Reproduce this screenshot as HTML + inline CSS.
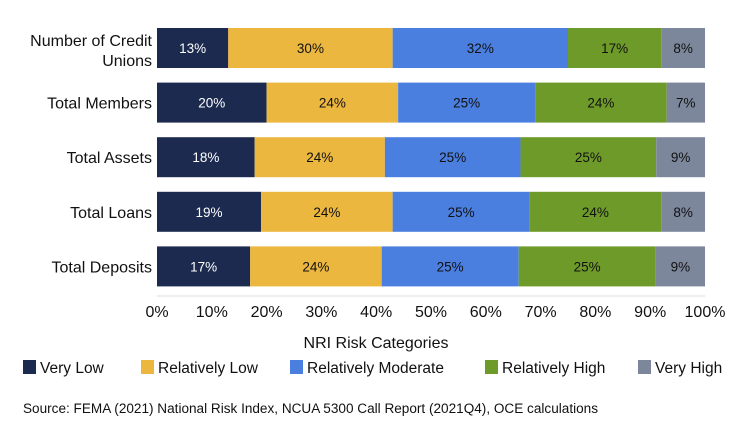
<!DOCTYPE html>
<html><head><meta charset="utf-8"><style>
body{margin:0;background:#fff;width:745px;height:435px;overflow:hidden;font-family:"Liberation Sans",sans-serif;}
svg text{font-family:"Liberation Sans",sans-serif;}
</style></head><body>
<svg id="chart" width="745" height="435" xmlns="http://www.w3.org/2000/svg"></svg>
<script>
const categories = ["Number of Credit|Unions","Total Members","Total Assets","Total Loans","Total Deposits"];
const seriesNames = ["Very Low","Relatively Low","Relatively Moderate","Relatively High","Very High"];
const veryLow = [13,20,18,19,17];
const relLow = [30,24,24,24,24];
const relMod = [32,25,25,25,25];
const relHigh = [17,24,25,24,25];
const veryHigh = [8,7,9,8,9];
const ticks = [0,10,20,30,40,50,60,70,80,90,100];
const colors = ["#1b2a4e","#ecb73f","#4a7fe0","#6e9a2a","#7c879c"];
const textColors = ["#fff","#111","#111","#111","#111"];
const series = [veryLow,relLow,relMod,relHigh,veryHigh];
const svg = document.getElementById('chart');
const NS = "http://www.w3.org/2000/svg";
const x0 = 157, x1 = 705;
const xs = v => x0 + (x1 - x0) * v / 100;
const rowTop = i => 28 + i * 54.6;
const barH = 40;
function mk(tag, attrs){const e=document.createElementNS(NS,tag);for(const k in attrs)e.setAttribute(k,attrs[k]);svg.appendChild(e);return e;}
const ax = mk('line',{x1:x0,x2:x1,y1:296,y2:296,stroke:'#ddd','stroke-width':1});


ticks.forEach(t=>{
  const tx = mk('text',{x:xs(t),y:317,'text-anchor':'middle','font-size':16,fill:'#111'});
  tx.textContent = t + '%';
  
  
});
categories.forEach((c,i)=>{
  const total = series.reduce((s,a)=>s+a[i],0);
  let acc = 0;
  const yt = rowTop(i);
  series.forEach((arr,j)=>{
    const v = arr[i] * 100 / total;
    const r = mk('rect',{x:xs(acc),y:yt,width:xs(acc+v)-xs(acc),height:barH,fill:colors[j]});
    
    
    const t = mk('text',{x:(xs(acc)+xs(acc+v))/2,y:yt+barH/2+5,'text-anchor':'middle','font-size':13.5,fill:textColors[j]});
    t.textContent = arr[i] + '%';
    
    
    acc += v;
  });
  const parts = c.split('|');
  parts.forEach((p,k)=>{
    const ly = yt + barH/2 + 6 + (parts.length===2 ? (k===0?-8:12) : 0);
    const l = mk('text',{x:152,y:ly,'text-anchor':'end','font-size':16,fill:'#111'});
    l.textContent = p;
    
    
  });
});
const lt = mk('text',{x:376,y:348,'text-anchor':'middle','font-size':16,fill:'#111'});
lt.textContent = 'NRI Risk Categories';


const lx = [23,141,290,485,638];
seriesNames.forEach((n,j)=>{
  const sq = mk('rect',{x:lx[j],y:360,width:13,height:14,fill:colors[j]});
  
  
  const t = mk('text',{x:lx[j]+17,y:373,'font-size':15.5,fill:'#111'});
  t.textContent = n;
  
  
});
const src = mk('text',{x:23,y:413,'font-size':13.5,fill:'#111',textLength:575,lengthAdjust:'spacingAndGlyphs'});
src.textContent = 'Source: FEMA (2021) National Risk Index, NCUA 5300 Call Report (2021Q4), OCE calculations';


</script>
</body></html>
